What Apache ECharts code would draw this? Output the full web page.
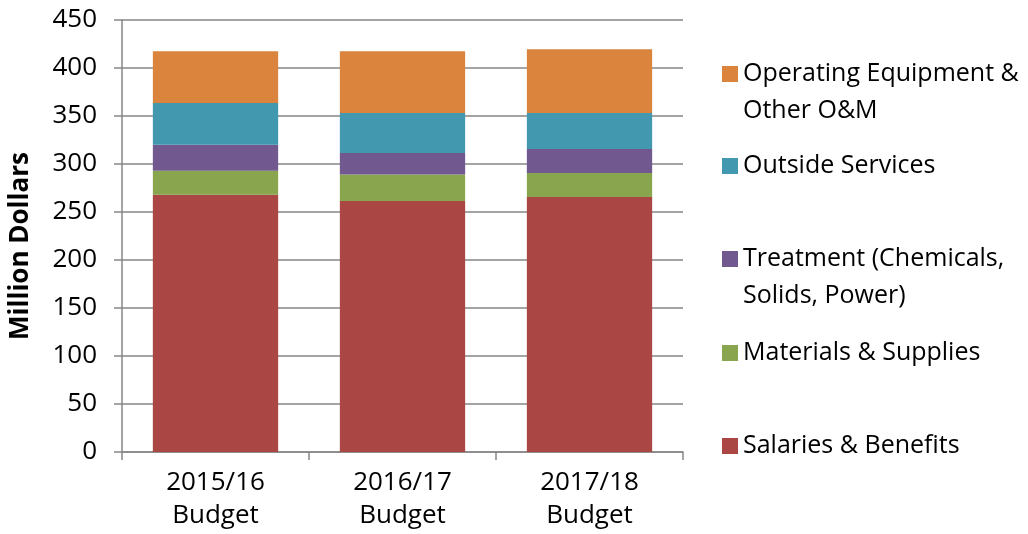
<!DOCTYPE html>
<html>
<head>
<meta charset="utf-8">
<script src="https://cdn.jsdelivr.net/npm/echarts@6/dist/echarts.min.js"></script>
<style>
  html, body { margin: 0; padding: 0; background: #fff; }
  #chart { width: 1028px; height: 534px; }
</style>
</head>
<body>
<div id="chart"></div>
<script>
var categories = ['2015/16\nBudget', '2016/17\nBudget', '2017/18\nBudget'];
var salaries = [268, 261.5, 265.5];
var materials = [25, 27.5, 25];
var treatment = [27, 22.5, 25];
var outside = [43.5, 41.5, 37.5];
var operating = [54, 64.5, 66.5];
var yTicks = [0, 50, 100, 150, 200, 250, 300, 350, 400, 450];

var font = 'Open Sans';
var chart = echarts.init(document.getElementById('chart'));

function bar(name, values, color) {
    return {
        name: name,
        type: 'bar',
        stack: 'total',
        barCategoryGap: '33%',
        data: values,
        itemStyle: { color: color },
        emphasis: { disabled: true }
    };
}

// one legend per entry so the spacing matches the original;
// two-line names get a blank first line so the icon sits on the first text line
function legendItem(name, center) {
    var lh = 37;
    var lines = name.split('\n').length;
    var shown = lines > 1 ? lines + 1 : 1;
    return {
        orient: 'vertical',
        left: 717,
        top: center - (lh * shown) / 2 - 4,
        itemWidth: 16,
        itemHeight: 16,
        itemGap: 0,
        icon: 'rect',
        selectedMode: false,
        formatter: function (n) { return lines > 1 ? '\n' + n : n; },
        textStyle: { fontFamily: font, fontSize: 25, color: '#000', lineHeight: lh },
        data: [name]
    };
}

chart.setOption({
    animation: false,
    grid: { left: 122, right: 345, top: 20, bottom: 82 },
    legend: [
        legendItem('Operating Equipment &\nOther O&M', 73),
        legendItem('Outside Services', 165),
        legendItem('Treatment (Chemicals,\nSolids, Power)', 258),
        legendItem('Materials & Supplies', 352),
        legendItem('Salaries & Benefits', 445)
    ],
    xAxis: {
        type: 'category',
        data: categories,
        axisLine: { lineStyle: { color: '#868686', width: 1.5 } },
        axisTick: { show: true, length: 8, lineStyle: { color: '#868686', width: 1.5 } },
        axisLabel: { fontFamily: font, fontSize: 26, color: '#000', lineHeight: 33, margin: 14 }
    },
    yAxis: {
        type: 'value',
        min: yTicks[0],
        max: yTicks[yTicks.length - 1],
        interval: 50,
        name: 'Million Dollars',
        nameLocation: 'middle',
        nameGap: 88,
        nameTextStyle: { fontFamily: font, fontSize: 26, fontWeight: 'bold', color: '#000', padding: [0, 20, 0, 0] },
        axisLine: { show: true, lineStyle: { color: '#868686', width: 1.5 } },
        axisTick: { show: true, length: 8, lineStyle: { color: '#868686', width: 1.5 } },
        axisLabel: { fontFamily: font, fontSize: 26, color: '#000', margin: 25 },
        splitLine: { show: true, lineStyle: { color: '#868686', width: 1.5 } }
    },
    series: [
        bar('Salaries & Benefits', salaries, '#AA4643'),
        bar('Materials & Supplies', materials, '#89A54E'),
        bar('Treatment (Chemicals,\nSolids, Power)', treatment, '#71588F'),
        bar('Outside Services', outside, '#4198AF'),
        bar('Operating Equipment &\nOther O&M', operating, '#DB843D')
    ]
});
</script>
</body>
</html>
